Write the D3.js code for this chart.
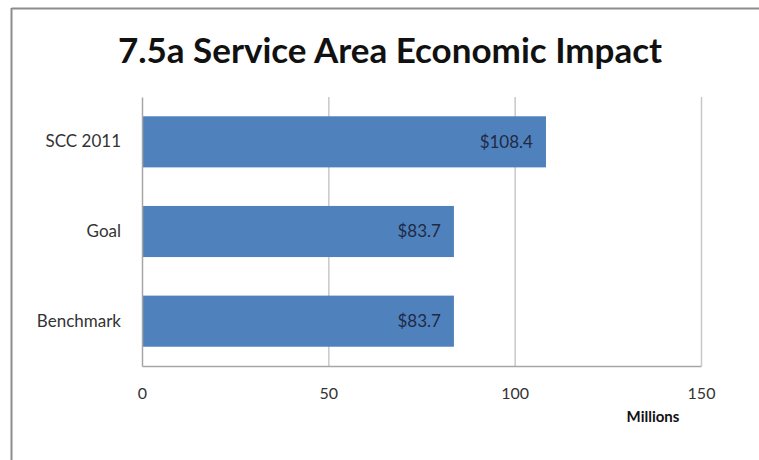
<!DOCTYPE html>
<html>
<head>
<meta charset="utf-8">
<script src="https://cdn.jsdelivr.net/npm/d3@7"></script>
<style>
  body { margin: 0; background: #fff; }
  text { font-family: Lato, "Open Sans", sans-serif; }
</style>
</head>
<body>
<div id="chart"></div>
<script>
// data
var categories = ["SCC 2011", "Goal", "Benchmark"];
var values = [108.4, 83.7, 83.7];
var valueLabels = ["$108.4", "$83.7", "$83.7"];
var xTicks = [0, 50, 100, 150];

var svgWidth = 759;
var svgHeight = 460;

var margin = { top: 97, right: 58, bottom: 94, left: 142 };
var width = svgWidth - margin.left - margin.right;
var height = svgHeight - margin.top - margin.bottom;

var svg = d3.select("#chart")
    .append("svg")
    .attr("width", svgWidth)
    .attr("height", svgHeight);

// chart border (only top and left visible in the picture)
svg.append("line")
    .attr("x1", 11.5).attr("x2", svgWidth)
    .attr("y1", 8.5).attr("y2", 8.5)
    .attr("stroke", "#8c8c8c").attr("stroke-width", 2);
svg.append("line")
    .attr("x1", 11.5).attr("x2", 11.5)
    .attr("y1", 8).attr("y2", svgHeight)
    .attr("stroke", "#8c8c8c").attr("stroke-width", 2);

// title
svg.append("text")
    .attr("x", 390)
    .attr("y", 63)
    .attr("text-anchor", "middle")
    .attr("font-size", 35)
    .attr("font-weight", "bold")
    .attr("fill", "#111")
    .text("7.5a Service Area Economic Impact");

var chartGroup = svg.append("g")
    .attr("transform", `translate(${margin.left}, ${margin.top})`);

var xScale = d3.scaleLinear()
    .domain([0, 150])
    .range([0, width]);

var yScale = d3.scaleBand()
    .domain(categories)
    .range([0, height])
    .paddingInner(0.43)
    .paddingOuter(0.215);

// gridlines
chartGroup.selectAll(".grid")
    .data(xTicks.slice(1))
    .enter()
    .append("line")
    .attr("class", "grid")
    .attr("x1", d => xScale(d) + 0.5)
    .attr("x2", d => xScale(d) + 0.5)
    .attr("y1", 0)
    .attr("y2", height)
    .attr("stroke", "#c8c8c8")
    .attr("stroke-width", 1.5);

// bars
chartGroup.selectAll("rect")
    .data(values)
    .enter()
    .append("rect")
    .attr("x", 0)
    .attr("y", (d, i) => yScale(categories[i]))
    .attr("width", d => xScale(d))
    .attr("height", yScale.bandwidth())
    .attr("fill", "#4f81bd");

// value labels
chartGroup.selectAll(".vlabel")
    .data(values)
    .enter()
    .append("text")
    .attr("class", "vlabel")
    .attr("x", d => xScale(d) - 13)
    .attr("y", (d, i) => yScale(categories[i]) + yScale.bandwidth() / 2)
    .attr("dy", "0.35em")
    .attr("text-anchor", "end")
    .attr("font-size", 17)
    .attr("fill", "#1f2a44")
    .text((d, i) => valueLabels[i]);

// x axis
var xAxis = d3.axisBottom(xScale)
    .tickValues(xTicks)
    .tickSize(0)
    .tickPadding(22);

var xg = chartGroup.append("g")
    .attr("transform", `translate(0,${height})`)
    .call(xAxis);
xg.select(".domain").attr("stroke", "#a6a6a6").attr("stroke-width", 1.5);
xg.selectAll("text")
    .attr("font-size", 16)
    .attr("fill", "#333")
    .style("font-family", "Lato, 'Open Sans', sans-serif");

// y axis
var yAxis = d3.axisLeft(yScale)
    .tickSize(0)
    .tickPadding(21);

var yg = chartGroup.append("g").call(yAxis);
yg.select(".domain").attr("stroke", "#a6a6a6").attr("stroke-width", 1.5);
yg.selectAll("text")
    .attr("font-size", 17)
    .attr("fill", "#333")
    .style("font-family", "Lato, 'Open Sans', sans-serif");

// axis title
svg.append("text")
    .attr("x", 653)
    .attr("y", 422)
    .attr("text-anchor", "middle")
    .attr("font-size", 15)
    .attr("font-weight", "bold")
    .attr("fill", "#111")
    .text("Millions");
</script>
</body>
</html>
